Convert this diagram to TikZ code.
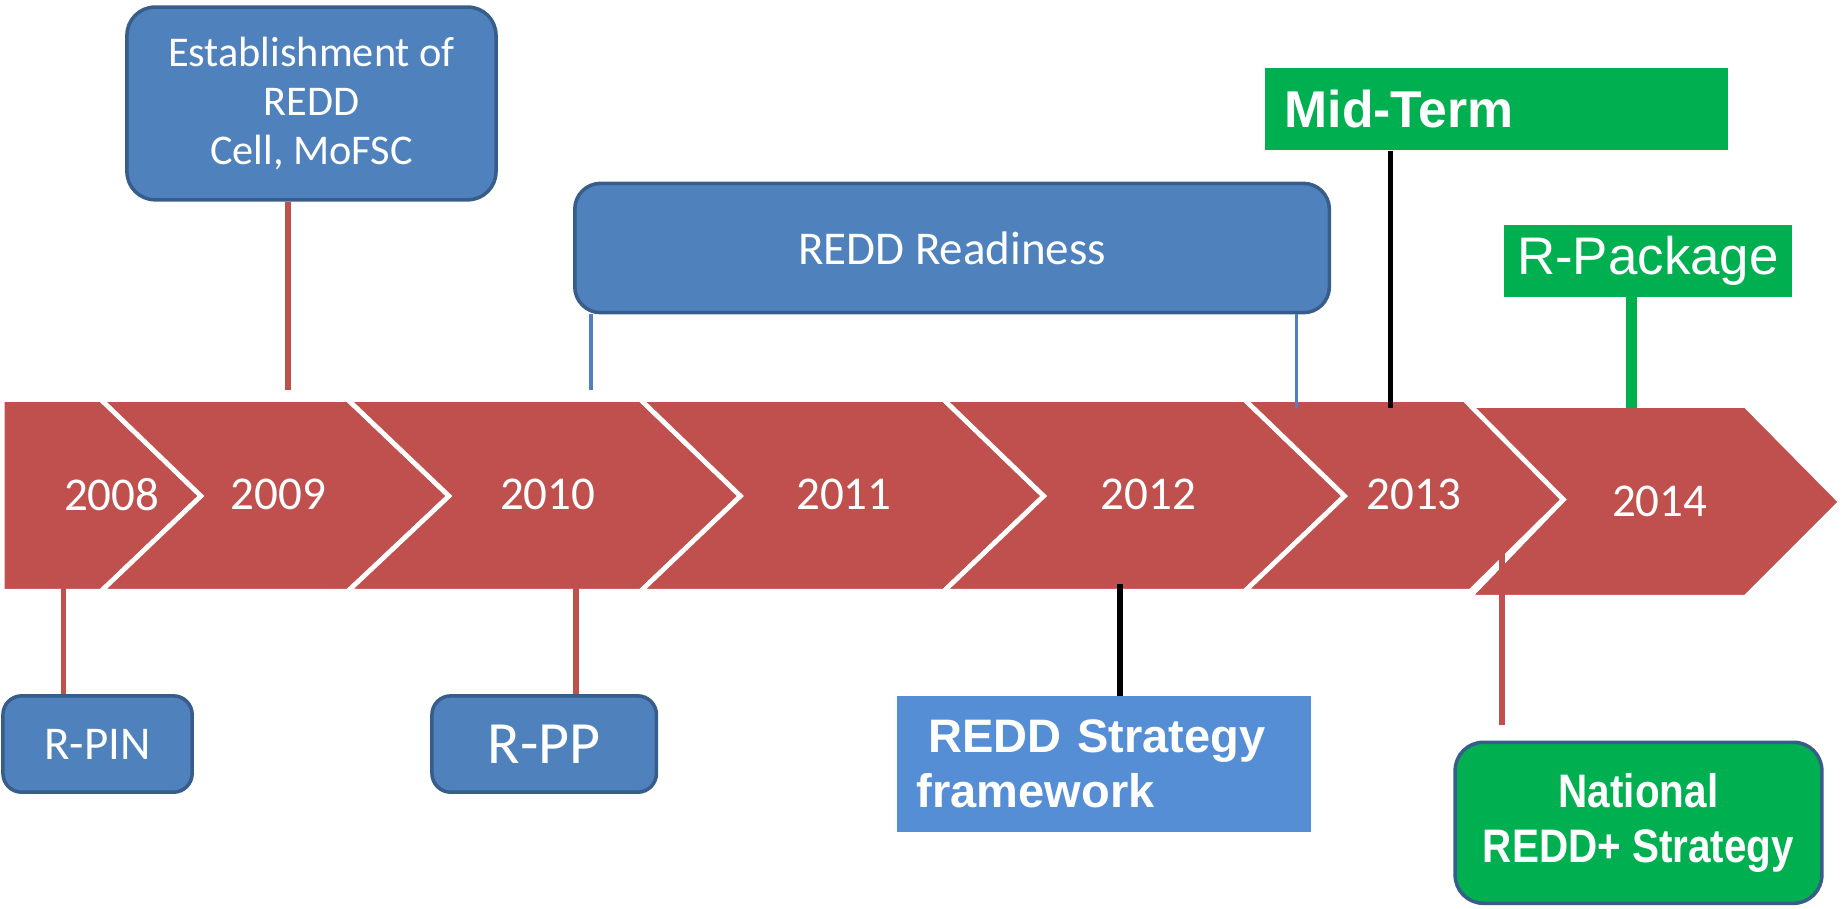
\documentclass[tikz,border=0pt]{standalone}
\usepackage{fontspec}
\setmainfont{Carlito}
\newfontfamily\arialfont{Liberation Sans}
\newfontfamily\narrowfont{Liberation Sans}[FakeStretch=0.86]
\usepackage{tikz}
\definecolor{bandred}{RGB}{192,80,77}
\definecolor{boxblue}{RGB}{79,129,189}
\definecolor{boxedge}{RGB}{56,93,138}
\definecolor{lightblue}{RGB}{85,142,213}
\definecolor{markgreen}{RGB}{0,176,80}
\tikzset{
    band/.style={
        fill=bandred,
        draw=white,
        line width=2pt
    },
    yearlabel/.style={
        text=white,
        font=\fontsize{20}{24}\selectfont
    },
    roundbox/.style={
        rectangle,
        rounded corners=9pt,
        draw=boxedge,
        line width=1.5pt,
        fill=boxblue,
        text=white,
        align=center,
        font=\fontsize{20}{24}\selectfont
    },
    greenbox/.style={
        rectangle,
        fill=markgreen,
        text=white
    },
    redstalk/.style={
        draw=bandred,
        line width=2.5pt
    },
    bluestalk/.style={
        draw=boxblue,
        line width=1.5pt
    },
    blackstalk/.style={
        draw=black,
        line width=2.5pt
    },
    greenstalk/.style={
        draw=markgreen,
        line width=4.5pt
    }
}
\begin{document}
\begin{tikzpicture}[x=0.5pt, y=-0.5pt]

\useasboundingbox (0,0) rectangle (1568,773);

% Year chevrons
\path[band] (2,340) -- (86,340) -- (171,422) -- (86,503) -- (2,503) -- cycle;
\path[band] (86,340) -- (296,340) -- (382,422) -- (296,503) -- (86,503) -- (171,422) -- cycle;
\path[band] (296,340) -- (545,340) -- (630,422) -- (545,503) -- (296,503) -- (382,422) -- cycle;
\path[band] (545,340) -- (803,340) -- (888,422) -- (803,503) -- (545,503) -- (630,422) -- cycle;
\path[band] (803,340) -- (1059,340) -- (1144,422) -- (1059,503) -- (803,503) -- (888,422) -- cycle;
\path[band] (1246,345) -- (1485,345) -- (1566,427) -- (1485,508) -- (1250,508) -- (1330,425) -- cycle;
\path[band] (1059,340) -- (1246,340) -- (1330,425) -- (1251,503) -- (1059,503) -- (1144,422) -- cycle;

\node[yearlabel] (y2008) at (95,421) {2008};
\node[yearlabel] (y2009) at (237,421) {2009};
\node[yearlabel] (y2010) at (466,421) {2010};
\node[yearlabel] (y2011) at (718,421) {2011};
\node[yearlabel] (y2012) at (977,421) {2012};
\node[yearlabel] (y2013) at (1203,421) {2013};
\node[yearlabel] (y2014) at (1412,427) {2014};

% Milestones above
\node[roundbox, minimum width=157pt, minimum height=82pt, rounded corners=12pt, font=\fontsize{18}{21}\selectfont] (est) at (265,88) {Establishment of\\REDD\\Cell, MoFSC};
\node[roundbox, minimum width=321pt, minimum height=55pt, rounded corners=11pt] (ready) at (810,211) {REDD Readiness};
\node[greenbox, minimum width=197pt, minimum height=35pt, text width=180pt, align=left, font=\arialfont\bfseries\fontsize{22}{26}\selectfont] (mid) at (1273,93) {Mid-Term};
\node[greenbox, minimum width=122.5pt, minimum height=30.5pt, font=\arialfont\fontsize{22.5}{27}\selectfont] (rpkg) at (1402,222) {R-Package};

% Milestones below
\node[roundbox, minimum width=80.5pt, minimum height=41pt, rounded corners=8pt] (rpin) at (83,633) {R-PIN};
\node[roundbox, minimum width=95.5pt, minimum height=41pt, rounded corners=8pt, font=\fontsize{25.5}{30}\selectfont] (rpp) at (463,633) {R-PP};
\node[rectangle, fill=lightblue, text=white, minimum width=176pt, minimum height=57.5pt, text width=159pt, align=left, font=\arialfont\bfseries\fontsize{20}{23.5}\selectfont] (strat) at (939,650) {\hspace*{5pt}REDD Strategy\\framework};
\node[roundbox, fill=markgreen, minimum width=156pt, minimum height=68.5pt, rounded corners=12pt, font=\narrowfont\bfseries\fontsize{20}{23.5}\selectfont] (nat) at (1394,700) {National\\REDD+ Strategy};

% Stalk ends on the band
\coordinate (e09) at (245,332);
\coordinate (r10) at (503,332);
\coordinate (r12) at (1103,347);
\coordinate (m13) at (1183,347);
\coordinate (p14) at (1388,347);
\coordinate (i08) at (54,487);
\coordinate (p10) at (490,477);
\coordinate (s12) at (953,497);
\coordinate (n14) at (1278,460);

% Connections
\draw[redstalk] (est.south -| e09) -- (e09);
\draw[bluestalk] (ready.south -| r10) -- (r10);
\draw[bluestalk] (ready.south -| r12) -- (r12);
\draw[blackstalk] (mid.south -| m13) -- (m13);
\draw[greenstalk] (rpkg.south -| p14) -- (p14);
\draw[redstalk] (i08) -- (rpin.north -| i08);
\draw[redstalk] (p10) -- (rpp.north -| p10);
\draw[blackstalk] (s12) -- (strat.north -| s12);
\draw[redstalk, shorten >=6.5pt] (n14) -- (nat.north -| n14);

\end{tikzpicture}
\end{document}
